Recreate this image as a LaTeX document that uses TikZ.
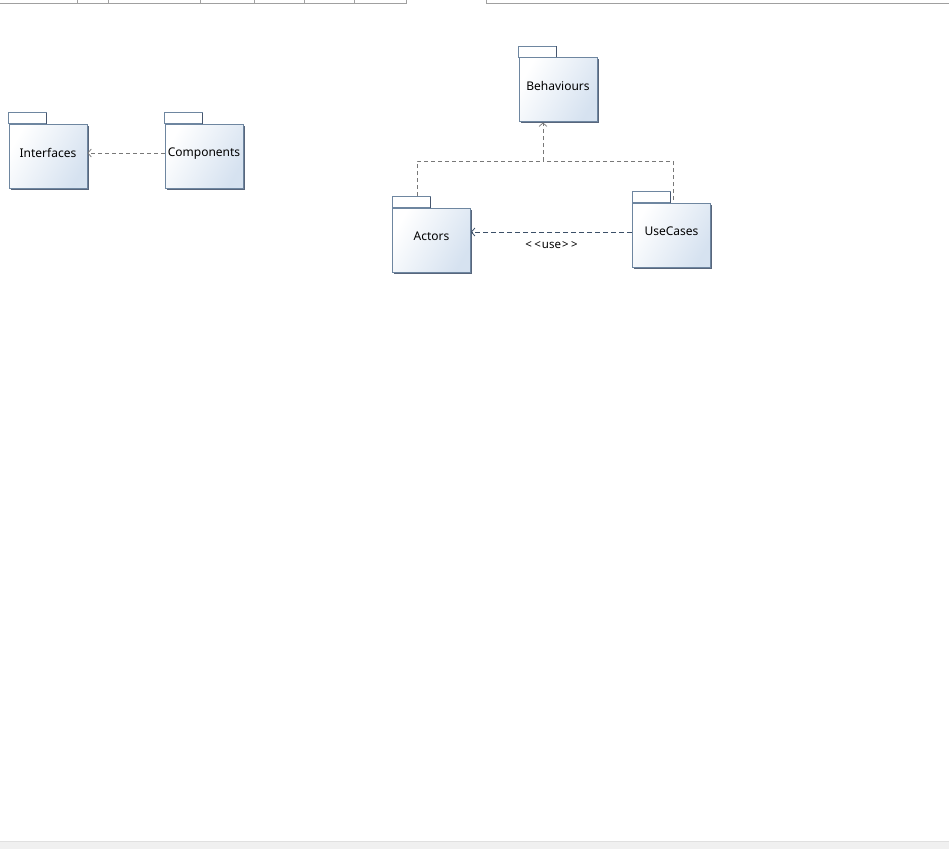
\documentclass[tikz,border=0pt]{standalone}
\usepackage{fontspec}
\setmainfont{Noto Sans}
\usetikzlibrary{arrows.meta,shadows}
\definecolor{pkgborder}{RGB}{110,134,160}
\definecolor{pkgshadow}{RGB}{70,86,110}
\definecolor{pkgfill}{RGB}{214,226,240}
\definecolor{deplight}{RGB}{120,120,120}
\definecolor{depdark}{RGB}{60,80,104}
\definecolor{framegrey}{RGB}{160,160,160}
\definecolor{barfill}{RGB}{240,240,240}
\tikzset{
  pkgbody/.style={draw=pkgborder, line width=0.8pt, left color=white, right color=pkgfill,
    shading angle=60, minimum width=78pt, minimum height=64pt, inner sep=0pt,
    font=\fontsize{12}{14}\selectfont, text depth=7pt,
    drop shadow={shadow xshift=1.6pt, shadow yshift=-1.6pt, fill=pkgshadow, opacity=0.9}},
  pkgtab/.style={draw=pkgborder, line width=0.8pt, fill=white},
  depline/.style={draw=deplight, line width=0.7pt, dash pattern=on 4pt off 3pt},
  usedep/.style={draw=depdark, line width=0.8pt, dash pattern=on 5pt off 3pt},
  opentip/.style={-{Straight Barb[length=3.5pt,width=8pt]}},
}
\newcommand{\pkgtabat}[1]{%
  \path[pkgtab] (#1.north west) rectangle ++(38pt,11pt);
  \draw[pkgshadow, line width=1pt] ([xshift=38.2pt]#1.north west) -- ++(0,11pt);}
\begin{document}
\begin{tikzpicture}[x=1pt,y=-1pt]
  \useasboundingbox (0,0) rectangle (949,849);
  \fill[white] (0,0) rectangle (949,849);
  % window frame remnants
  \draw[framegrey, line width=0.8pt] (0,3.5) -- (406,3.5) -- (406,0);
  \draw[framegrey, line width=0.8pt] (486,0) -- (486,3.5) -- (949,3.5);
  \foreach \tx in {77,108,200,254,304,354}
    \draw[framegrey, line width=0.6pt] (\tx,0) -- (\tx,3.5);
  \fill[barfill] (0,841) rectangle (949,849);
  \draw[black!12, line width=0.5pt] (0,841) -- (949,841);

  % packages
  \node[pkgbody] (interfaces) at (48,156) {Interfaces};
  \pkgtabat{interfaces}
  \node[pkgbody] (components) at (204,156) {Components};
  \pkgtabat{components}
  \node[pkgbody] (behaviours) at (558,89.5) {Behaviours};
  \pkgtabat{behaviours}
  \node[pkgbody] (actors) at (431.5,240) {Actors};
  \pkgtabat{actors}
  \node[pkgbody] (usecases) at (671.5,235) {UseCases};
  \pkgtabat{usecases}

  % dependencies
  \draw[depline, opentip] (components.west |- 0,153) -- (interfaces.east |- 0,153);
  \coordinate (join) at (543,161);
  \draw[depline] (417,196) |- (join);
  \draw[depline] (673,200) |- (join);
  \draw[depline, opentip] (join) -- (543,122.5);
  \draw[usedep, opentip] (usecases.west |- 0,232) -- (actors.east |- 0,232)
    node[midway, below=5.5pt, font=\fontsize{11.5}{13}\selectfont, text=black]
    {<\kern2.5pt<\kern1pt use\kern1pt>\kern2.5pt>};
\end{tikzpicture}
\end{document}
